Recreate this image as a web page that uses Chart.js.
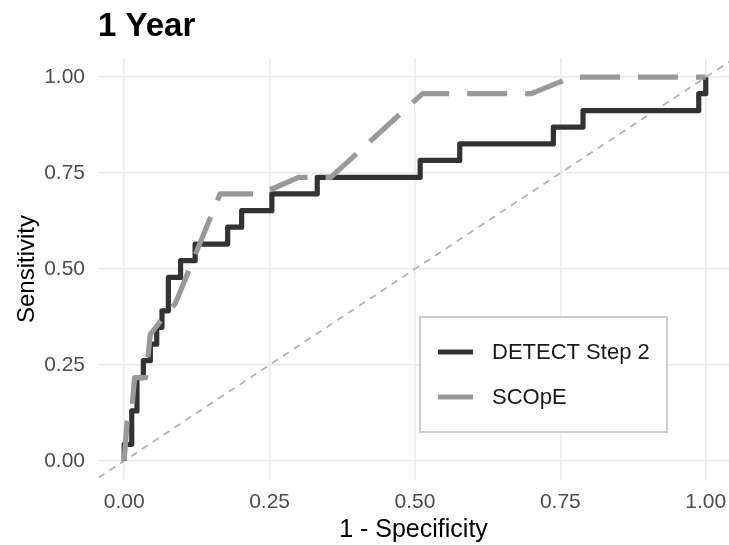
<!DOCTYPE html>
<html><head><meta charset="utf-8">
<script src="https://cdn.jsdelivr.net/npm/chart.js@4.4.1/dist/chart.umd.min.js"></script>
<style>html,body{margin:0;padding:0;background:#fff}#wrap{width:729px;height:545px}</style>
</head><body><div id="wrap"><canvas id="c" width="729" height="545"></canvas></div>
<script>
const chartTitle = '1 Year';
const xAxisTitle = '1 - Specificity';
const yAxisTitle = 'Sensitivity';
const tickValues = [0, 0.25, 0.5, 0.75, 1];
const tickLabels = ['0.00', '0.25', '0.50', '0.75', '1.00'];
const seriesNames = ['DETECT Step 2', 'SCOpE'];

// DETECT Step 2 ROC (1 - specificity, sensitivity)
const detectFpr = [0, 0, 0.013, 0.013, 0.022, 0.022, 0.033, 0.033, 0.045, 0.045, 0.056, 0.056, 0.065, 0.065, 0.076, 0.076, 0.097, 0.097, 0.122, 0.122, 0.178, 0.178, 0.202, 0.202, 0.254, 0.254, 0.332, 0.332, 0.509, 0.509, 0.577, 0.577, 0.738, 0.738, 0.789, 0.789, 0.988, 0.988, 1, 1];
const detectTpr = [0, 0.043, 0.043, 0.13, 0.13, 0.217, 0.217, 0.261, 0.261, 0.304, 0.304, 0.348, 0.348, 0.391, 0.391, 0.478, 0.478, 0.522, 0.522, 0.565, 0.565, 0.609, 0.609, 0.652, 0.652, 0.696, 0.696, 0.739, 0.739, 0.783, 0.783, 0.826, 0.826, 0.870, 0.870, 0.913, 0.913, 0.957, 0.957, 1];

// SCOpE ROC
const scopeFpr = [0, 0.005, 0.013, 0.018, 0.037, 0.045, 0.068, 0.088, 0.165, 0.235, 0.30, 0.355, 0.513, 0.70, 0.77, 1];
const scopeTpr = [0, 0.10, 0.13, 0.217, 0.217, 0.33, 0.375, 0.41, 0.696, 0.696, 0.739, 0.739, 0.957, 0.957, 1, 1];

// chance diagonal
const chanceLine = [-0.1, 1.1];

const toPts = (xs, ys) => xs.map((x, i) => ({x: x, y: ys[i]}));
const FONT = "'Liberation Sans', Arial, sans-serif";

const insideLegend = {
  id: 'insideLegend',
  afterDatasetsDraw(chart, args, o) {
    const ctx = chart.ctx;
    ctx.save();
    ctx.fillStyle = '#ffffff';
    ctx.fillRect(o.x, o.y, o.w, o.h);
    ctx.strokeStyle = '#cccccc';
    ctx.lineWidth = 2;
    ctx.setLineDash([]);
    ctx.strokeRect(o.x, o.y, o.w, o.h);
    const items = chart.data.datasets.filter(d => d.inLegend);
    items.forEach((d, i) => {
      const yy = o.y + o.firstRow + i * o.rowGap;
      ctx.strokeStyle = d.borderColor;
      ctx.lineWidth = d.borderWidth;
      ctx.lineCap = 'butt';
      ctx.setLineDash(d.borderDash || []);
      ctx.beginPath();
      ctx.moveTo(o.x + o.lineStart, yy);
      ctx.lineTo(o.x + o.lineEnd, yy);
      ctx.stroke();
      ctx.setLineDash([]);
      ctx.fillStyle = '#1a1a1a';
      ctx.font = '22px ' + FONT;
      ctx.textBaseline = 'middle';
      ctx.textAlign = 'left';
      ctx.fillText(d.label, o.x + o.textStart, yy + 1);
    });
    ctx.restore();
  }
};

new Chart(document.getElementById('c'), {
  type: 'line',
  data: {
    datasets: [
      {label: 'chance', data: toPts(chanceLine, chanceLine), borderColor: '#b3b3b3', borderWidth: 1.8, borderDash: [7, 6], pointRadius: 0, fill: false, order: 3, clip: 0, inLegend: false},
      {label: seriesNames[0], data: toPts(detectFpr, detectTpr), borderColor: '#333333', borderWidth: 5.2, pointRadius: 0, fill: false, tension: 0, order: 2, borderJoinStyle: 'round', borderCapStyle: 'butt', inLegend: true},
      {label: seriesNames[1], data: toPts(scopeFpr, scopeTpr), borderColor: '#999999', borderWidth: 5.2, borderDash: [40, 18], pointRadius: 0, fill: false, tension: 0, order: 1, borderJoinStyle: 'round', borderCapStyle: 'butt', inLegend: true}
    ]
  },
  options: {
    responsive: false,
    animation: false,
    devicePixelRatio: 1,
    layout: {padding: 0},
    plugins: {
      legend: {display: false},
      tooltip: {enabled: false},
      title: {display: true, text: chartTitle, align: 'start', fullSize: false, color: '#000',
        font: {family: FONT, size: 33, weight: 'bold', lineHeight: 1.2}, padding: {top: 7, bottom: 11.4}},
      insideLegend: {x: 420, y: 317, w: 247, h: 115, firstRow: 35, rowGap: 45, lineStart: 18, lineEnd: 53, textStart: 72}
    },
    scales: {
      x: {
        type: 'linear', min: -0.045, max: 1.04,
        afterBuildTicks: s => { s.ticks = tickValues.map(v => ({value: v})); },
        afterFit: s => { s.height = 65; s.paddingRight = 0; s.paddingLeft = 0; },
        ticks: {callback: (v) => tickLabels[tickValues.indexOf(v)] ?? '', color: '#4d4d4d', font: {family: FONT, size: 21}, padding: 10, maxRotation: 0, autoSkip: false},
        grid: {color: '#ebebeb', lineWidth: 1.6, drawTicks: false},
        border: {display: false},
        title: {display: true, text: xAxisTitle, color: '#000', font: {family: FONT, size: 25, lineHeight: 1}, padding: {top: 0, bottom: 2}}
      },
      y: {
        type: 'linear', min: -0.05, max: 1.05,
        afterBuildTicks: s => { s.ticks = tickValues.map(v => ({value: v})); },
        afterFit: s => { s.width = 98; s.paddingTop = 0; s.paddingBottom = 0; },
        ticks: {callback: (v) => tickLabels[tickValues.indexOf(v)] ?? '', color: '#4d4d4d', font: {family: FONT, size: 21}, padding: 13, autoSkip: false},
        grid: {color: '#ebebeb', lineWidth: 1.6, drawTicks: false},
        border: {display: false},
        title: {display: true, text: yAxisTitle, color: '#000', font: {family: FONT, size: 24, lineHeight: 1.2}, padding: {top: 13, bottom: 0}}
      }
    }
  },
  plugins: [insideLegend]
});
</script>
</body></html>
